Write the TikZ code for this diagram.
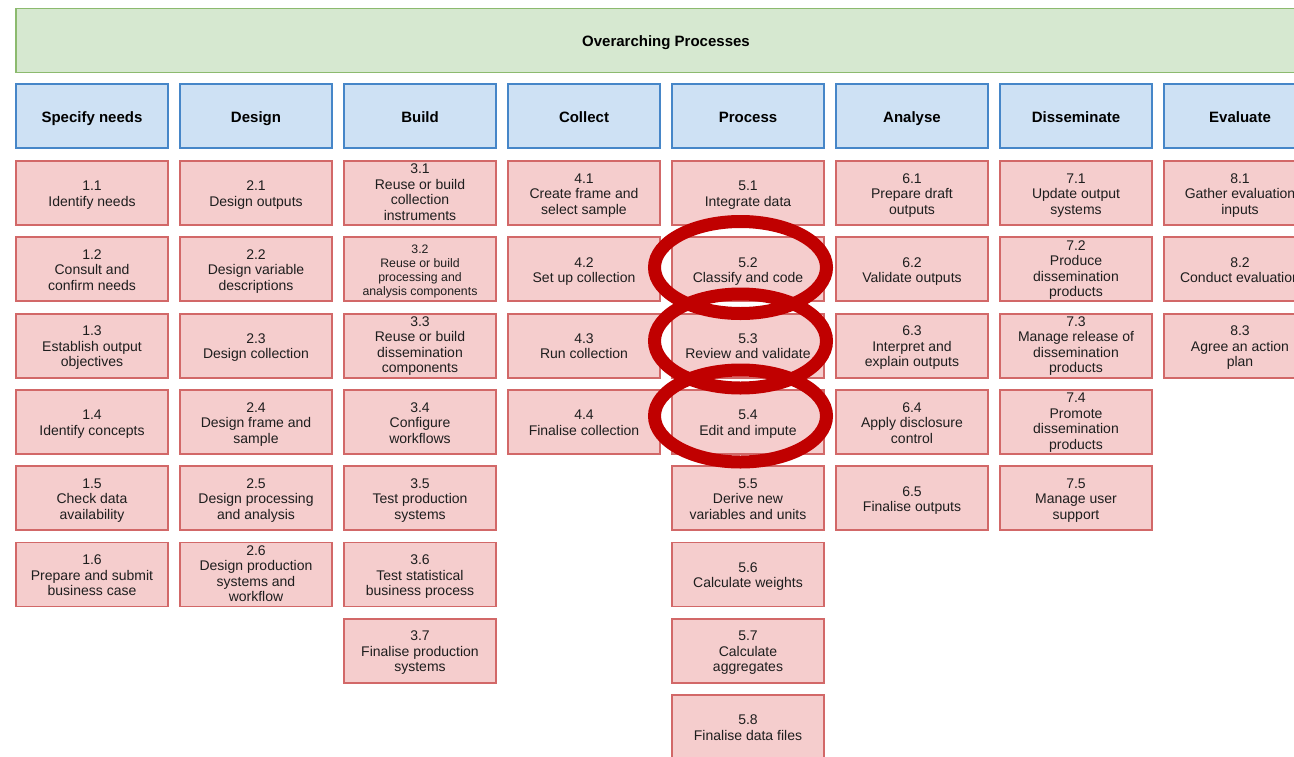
\documentclass[tikz,border=0pt]{standalone}
\usepackage{fontspec}
\setmainfont{Liberation Sans}
\definecolor{ovfill}{RGB}{214,232,208}
\definecolor{ovline}{RGB}{140,186,110}
\definecolor{phfill}{RGB}{206,225,244}
\definecolor{phline}{RGB}{70,134,200}
\definecolor{tkfill}{RGB}{245,205,205}
\definecolor{tkline}{RGB}{210,104,104}
\definecolor{tktext}{RGB}{30,30,30}
\definecolor{ringred}{RGB}{192,0,0}
% box text: a taller strut on the first line and a plain one on the last,
% so the lines sit on the box's optical centre
\newcommand{\topstrut}[1]{\strut\rule{0pt}{\dimexpr\ht\strutbox+#1\relax}}
\newcommand{\tb}[1]{\topstrut{5pt}#1\strut}
% four-line texts fill the box, so they get less extra room on top
\newcommand{\tbq}[1]{\topstrut{2pt}#1\strut}
\begin{document}
\begin{tikzpicture}[x=1pt,y=-1pt,
  box/.style={draw, line width=1.8pt, minimum width=152pt, minimum height=64pt,
    inner sep=0pt, align=center},
  overbox/.style={box, fill=ovfill, draw=ovline, minimum width=1300pt,
    font=\bfseries\fontsize{15}{18}\selectfont},
  phase/.style={box, fill=phfill, draw=phline,
    font=\bfseries\fontsize{15}{18}\selectfont},
  task/.style={box, fill=tkfill, draw=tkline, text=tktext,
    font=\fontsize{14}{15.5}\selectfont},
  smalltask/.style={task, font=\fontsize{12.3}{13.7}\selectfont},
  ring/.style={draw=ringred, line width=13pt}
]
\useasboundingbox (0,0) rectangle (1294,756);
\fill[white] (0,0) rectangle (1294,756);
\clip (0,0) rectangle (1294,756);

% overarching band
\node[overbox] (over) at (666,40.5) {\tb{Overarching Processes}};

% phase headers
\node[phase] (p1) at (92,116)   {\tb{Specify needs}};
\node[phase] (p2) at (256,116)  {\tb{Design}};
\node[phase] (p3) at (420,116)  {\tb{Build}};
\node[phase] (p4) at (584,116)  {\tb{Collect}};
\node[phase] (p5) at (748,116)  {\tb{Process}};
\node[phase] (p6) at (912,116)  {\tb{Analyse}};
\node[phase] (p7) at (1076,116) {\tb{Disseminate}};
\node[phase] (p8) at (1240,116) {\tb{Evaluate}};

% 1 Specify needs
\node[task] (t11) at (92,193)   {\tb{1.1\\Identify needs}};
\node[task] (t12) at (92,269.3) {\tb{1.2\\Consult and\\confirm needs}};
\node[task] (t13) at (92,345.6) {\tb{1.3\\Establish output\\objectives}};
\node[task] (t14) at (92,421.9) {\tb{1.4\\Identify concepts}};
\node[task] (t15) at (92,498.2) {\tb{1.5\\Check data\\availability}};
\node[task] (t16) at (92,574.5) {\tb{1.6\\Prepare and submit\\business case}};

% 2 Design
\node[task] (t21) at (256,193)   {\tb{2.1\\Design outputs}};
\node[task] (t22) at (256,269.3) {\tb{2.2\\Design variable\\descriptions}};
\node[task] (t23) at (256,345.6) {\tb{2.3\\Design collection}};
\node[task] (t24) at (256,421.9) {\tb{2.4\\Design frame and\\sample}};
\node[task] (t25) at (256,498.2) {\tb{2.5\\Design processing\\and analysis}};
\node[task] (t26) at (256,574.5) {\tbq{2.6\\Design production\\systems and\\workflow}};

% 3 Build
\node[task] (t31) at (420,193)   {\tbq{3.1\\Reuse or build\\collection\\instruments}};
\node[smalltask] (t32) at (420,269.3) {\tb{3.2\\Reuse or build\\processing and\\analysis components}};
\node[task] (t33) at (420,345.6) {\tbq{3.3\\Reuse or build\\dissemination\\components}};
\node[task] (t34) at (420,421.9) {\tb{3.4\\Configure\\workflows}};
\node[task] (t35) at (420,498.2) {\tb{3.5\\Test production\\systems}};
\node[task] (t36) at (420,574.5) {\tb{3.6\\Test statistical\\business process}};
\node[task] (t37) at (420,650.8) {\tb{3.7\\Finalise production\\systems}};

% 4 Collect
\node[task] (t41) at (584,193)   {\tb{4.1\\Create frame and\\select sample}};
\node[task] (t42) at (584,269.3) {\tb{4.2\\Set up collection}};
\node[task] (t43) at (584,345.6) {\tb{4.3\\Run collection}};
\node[task] (t44) at (584,421.9) {\tb{4.4\\Finalise collection}};

% 5 Process
\node[task] (t51) at (748,193)   {\tb{5.1\\Integrate data}};
\node[task] (t52) at (748,269.3) {\tb{5.2\\Classify and code}};
\node[task] (t53) at (748,345.6) {\tb{5.3\\Review and validate}};
\node[task] (t54) at (748,421.9) {\tb{5.4\\Edit and impute}};
\node[task] (t55) at (748,498.2) {\tb{5.5\\Derive new\\variables and units}};
\node[task] (t56) at (748,574.5) {\tb{5.6\\Calculate weights}};
\node[task] (t57) at (748,650.8) {\tb{5.7\\Calculate\\aggregates}};
\node[task] (t58) at (748,727.1) {\tb{5.8\\Finalise data files}};

% 6 Analyse
\node[task] (t61) at (912,193)   {\tb{6.1\\Prepare draft\\outputs}};
\node[task] (t62) at (912,269.3) {\tb{6.2\\Validate outputs}};
\node[task] (t63) at (912,345.6) {\tb{6.3\\Interpret and\\explain outputs}};
\node[task] (t64) at (912,421.9) {\tb{6.4\\Apply disclosure\\control}};
\node[task] (t65) at (912,498.2) {\tb{6.5\\Finalise outputs}};

% 7 Disseminate
\node[task] (t71) at (1076,193)   {\tb{7.1\\Update output\\systems}};
\node[task] (t72) at (1076,269.3) {\tbq{7.2\\Produce\\dissemination\\products}};
\node[task] (t73) at (1076,345.6) {\tbq{7.3\\Manage release of\\dissemination\\products}};
\node[task] (t74) at (1076,421.9) {\tbq{7.4\\Promote\\dissemination\\products}};
\node[task] (t75) at (1076,498.2) {\tb{7.5\\Manage user\\support}};

% 8 Evaluate
\node[task] (t81) at (1240,193)   {\tb{8.1\\Gather evaluation\\inputs}};
\node[task] (t82) at (1240,269.3) {\tb{8.2\\Conduct evaluation}};
\node[task] (t83) at (1240,345.6) {\tb{8.3\\Agree an action\\plan}};

% highlight rings round 5.2 -- 5.4 (yshift is upward on the page)
\draw[ring] ([xshift=-7.5pt,yshift=1.8pt]t52.center) ellipse [x radius=86, y radius=46];
\draw[ring] ([xshift=-7.5pt,yshift=4.6pt]t53.center) ellipse [x radius=86, y radius=47];
\draw[ring] ([xshift=-7.5pt,yshift=5.9pt]t54.center) ellipse [x radius=86, y radius=46];
\end{tikzpicture}
\end{document}
